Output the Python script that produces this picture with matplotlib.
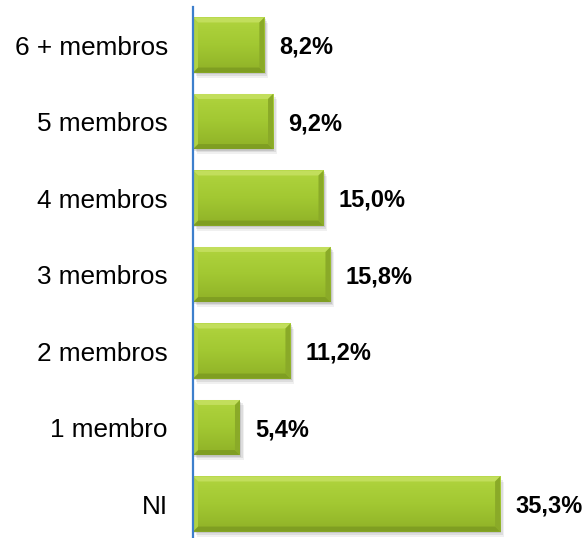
import matplotlib
matplotlib.use("Agg")
import matplotlib.pyplot as plt
import numpy as np
from matplotlib.patches import Polygon, Rectangle
from matplotlib.colors import LinearSegmentedColormap

categories = ["NI", "1 membro", "2 membros", "3 membros", "4 membros", "5 membros", "6 + membros"]
values = [35.3, 5.4, 11.2, 15.8, 15.0, 9.2, 8.2]
labels = ["35,3%", "5,4%", "11,2%", "15,8%", "15,0%", "9,2%", "8,2%"]

plt.rcParams['font.family'] = ['Liberation Sans', 'DejaVu Sans']

W, H, DPI = 588, 538, 100
fig = plt.figure(figsize=(W / DPI, H / DPI), dpi=DPI)
ax_left, ax_right, ax_top, ax_bot = 193, 580, 7, 538
ax = fig.add_axes([ax_left / W, 1 - ax_bot / H, (ax_right - ax_left) / W, (ax_bot - ax_top) / H])

px_per_x = 8.7
xmax = (ax_right - ax_left) / px_per_x
ax.set_xlim(0, xmax)
ax.set_ylim(-0.444, 6.497)
px_per_y = (ax_bot - ax_top) / (6.497 + 0.444)

y = np.arange(len(categories))
bh = 0.72
bars = ax.barh(y, values, height=bh, color="#9cc22e", edgecolor="none", zorder=3)

cmap = LinearSegmentedColormap.from_list("g", ["#8fb127", "#a2c832", "#b0d43e"])
bev = 5.0
for rect in bars:
    x0, y0 = rect.get_x(), rect.get_y()
    w, h = rect.get_width(), rect.get_height()
    bx = bev / px_per_x
    by = bev / px_per_y
    # soft shadow
    for k, a in enumerate([0.10, 0.08, 0.06]):
        d = (k + 1) * 1.3
        ax.add_patch(Rectangle((x0 + d / px_per_x, y0 - d * 1.3 / px_per_y), w, h,
                               facecolor="black", alpha=a, edgecolor="none", zorder=2))
    # gradient face
    grad = np.linspace(0, 1, 50).reshape(-1, 1)
    im = ax.imshow(grad, extent=(x0, x0 + w, y0, y0 + h), origin="lower", cmap=cmap,
                   aspect="auto", zorder=3.5)
    im.set_clip_path(rect)
    # bevels
    top = Polygon([(x0, y0 + h), (x0 + w, y0 + h), (x0 + w - bx, y0 + h - by), (x0 + bx, y0 + h - by)],
                  closed=True, facecolor="#c2de5c", edgecolor="none", zorder=4)
    bot = Polygon([(x0, y0), (x0 + w, y0), (x0 + w - bx, y0 + by), (x0 + bx, y0 + by)],
                  closed=True, facecolor="#7f9e22", edgecolor="none", zorder=4)
    left = Polygon([(x0, y0), (x0 + bx, y0 + by), (x0 + bx, y0 + h - by), (x0, y0 + h)],
                   closed=True, facecolor="#b0d243", edgecolor="none", zorder=4)
    right = Polygon([(x0 + w, y0), (x0 + w - bx, y0 + by), (x0 + w - bx, y0 + h - by), (x0 + w, y0 + h)],
                    closed=True, facecolor="#8aaa28", edgecolor="none", zorder=4)
    for p in (top, bot, left, right):
        ax.add_patch(p)

for yi, v, lab in zip(y, values, labels):
    ax.text(v + 15 / px_per_x, yi - 0.03, lab, ha="left", va="center",
            fontsize=17, fontweight="bold", color="black", zorder=5)

ax.set_yticks(y)
ax.set_yticklabels(categories, fontsize=18.8)
ax.tick_params(axis="y", length=0, pad=18)
ax.set_xticks([])
for s in ["top", "right", "bottom"]:
    ax.spines[s].set_visible(False)
ax.spines["left"].set_color("#3d7fcc")
ax.spines["left"].set_linewidth(1.6)
ax.spines["left"].set_zorder(6)
ax.patch.set_alpha(0)

fig.savefig("out.png", dpi=DPI)
